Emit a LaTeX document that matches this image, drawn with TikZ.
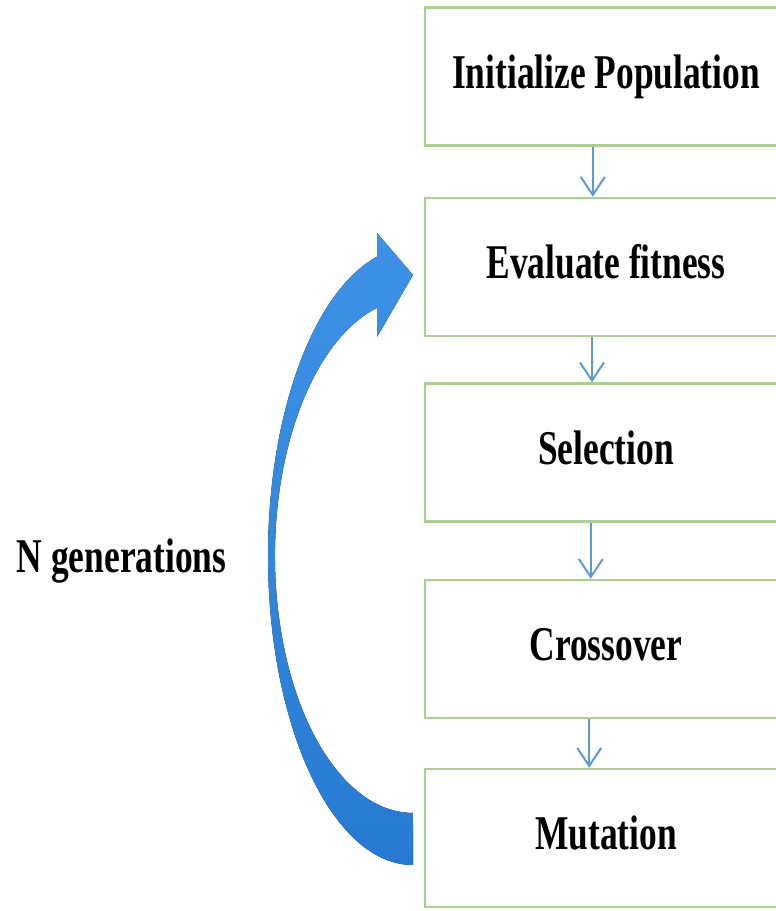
\documentclass[tikz,border=0pt]{standalone}
\usepackage{fontspec}
\setmainfont{Liberation Serif}
\usepackage{xcolor}
\usepackage{tikz}
\usetikzlibrary{arrows.meta}

\definecolor{boxgreen}{RGB}{169,209,142}
\definecolor{flowblue}{RGB}{91,155,213}
\definecolor{looptop}{RGB}{62,146,230}
\definecolor{loopbottom}{RGB}{38,122,210}
\newcommand{\narrowtext}[1]{\scalebox{0.73}[1]{#1}}

\tikzset{
	stage/.style={shape=rectangle, draw=boxgreen, line width=1.8pt, fill=white, inner sep=0, minimum width=9.05cm, minimum height=3.45cm, text height=0.8cm, text depth=0.2cm, font=\fontsize{34.5}{40}\selectfont\bfseries},
	flow/.style={draw=flowblue, line width=1.4pt, -{Straight Barb[length=0.45cm, width=0.6cm]}},
}

\begin{document}
\begin{tikzpicture}
	\useasboundingbox[fill=white] (0, 0) rectangle (19.4, 22.775);
	% Stages, loop arrow and label:
	\node[stage] (Box1) at (15.15, 20.8625) {\narrowtext{Initialize Population}};
	\node[stage] (Box2) at (15.15, 16.1) {\narrowtext{Evaluate fitness}};
	\node[stage] (Box3) at (15.15, 11.4625) {\narrowtext{Selection}};
	\node[stage] (Box4) at (15.15, 6.55) {\narrowtext{Crossover}};
	\node[stage] (Box5) at (15.15, 1.825) {\narrowtext{Mutation}};
	\draw[flow] ([xshift=-0.33cm]Box1.south) -- ([xshift=-0.33cm]Box2.north);
	\draw[flow] ([xshift=-0.35cm]Box2.south) -- ([xshift=-0.35cm]Box3.north);
	\draw[flow] ([xshift=-0.38cm]Box3.south) -- ([xshift=-0.38cm]Box4.north);
	\draw[flow] ([xshift=-0.42cm]Box4.south) -- ([xshift=-0.42cm]Box5.north);
	\fill[top color=looptop, bottom color=loopbottom] (10.325, 1.15) arc[start angle=270, end angle=104.36, x radius=3.625cm, y radius=7.725cm] -- (9.425, 16.95) -- (10.325, 15.9) -- (9.425, 14.35) -- (9.425, 15.078) arc[start angle=105.12, end angle=270, x radius=3.45cm, y radius=6.425cm] -- cycle;
	\node[anchor=base, inner sep=0, font=\fontsize{34.5}{40}\selectfont\bfseries] (Label1) at (3.04, 8.45) {\narrowtext{N generations}};
\end{tikzpicture}
\end{document}
